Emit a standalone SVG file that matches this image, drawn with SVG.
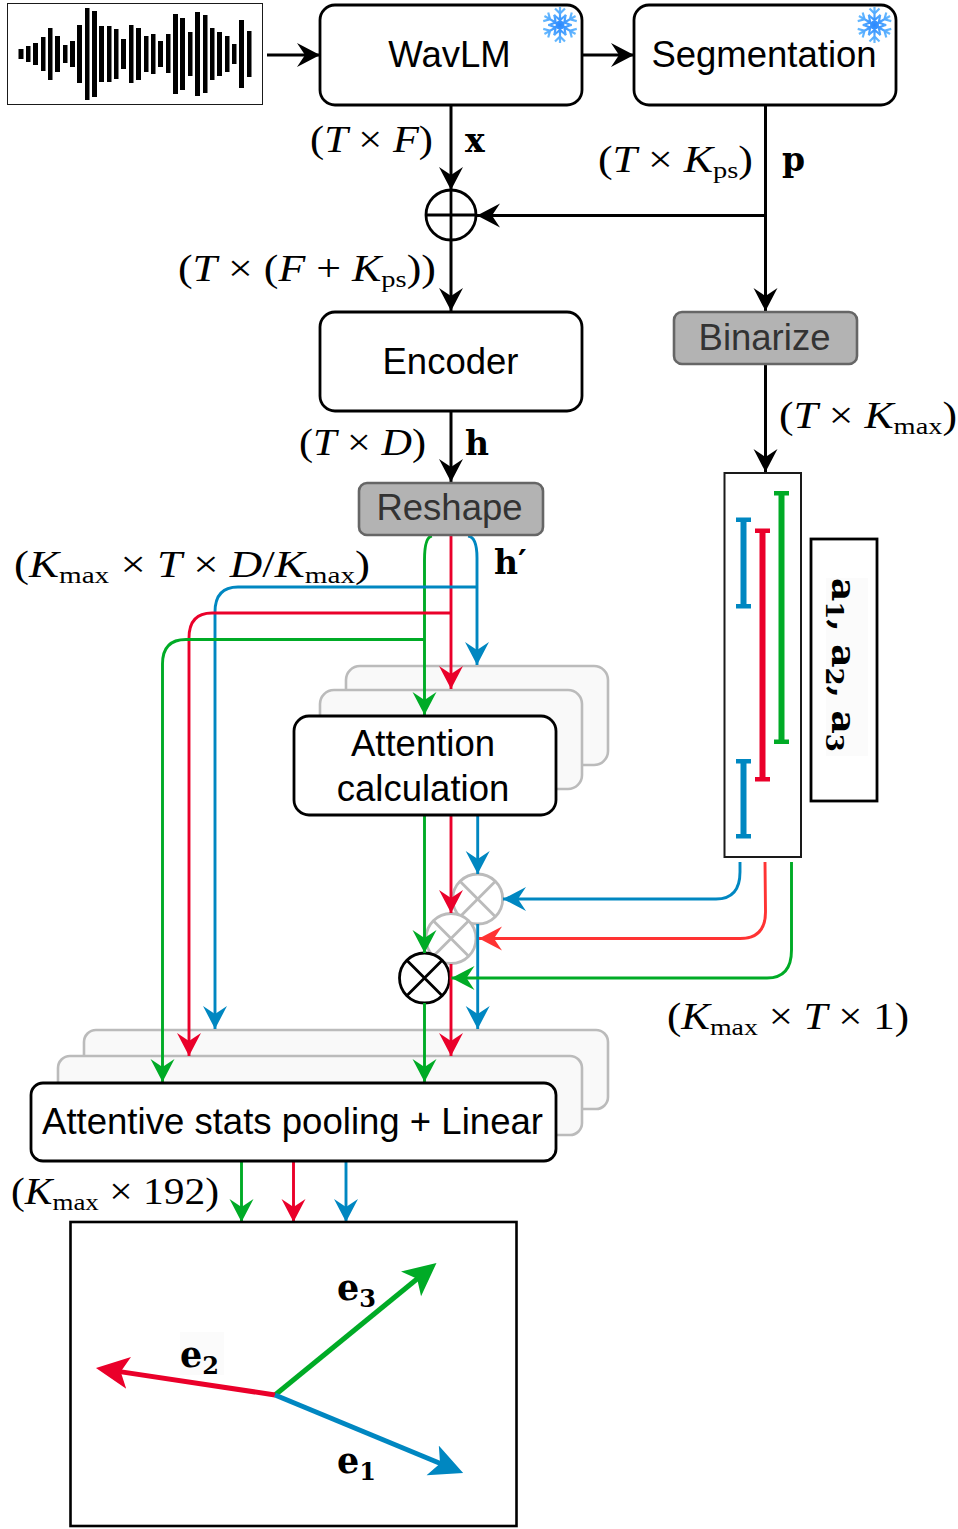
<svg xmlns="http://www.w3.org/2000/svg" xmlns:xlink="http://www.w3.org/1999/xlink" width="958" height="1529" viewBox="0 0 958 1529">
<style>
.box{fill:#fff;stroke:#000;stroke-width:2.8}
.ghost{fill:#f9f9f9;stroke:#bbb;stroke-width:2.6}
.gray{fill:#b3b3b3;stroke:#666;stroke-width:2.6}
.plain{fill:#fff;stroke:#1a1a1a}
.lbl{font-family:"Liberation Sans",Arial,sans-serif;font-size:36.500px;text-anchor:middle;fill:#000}
.math{font-family:"Liberation Serif","Times New Roman",serif;font-size:37px;fill:#000}
.i{font-style:italic}
.sub{font-size:24px}
.bold{font-family:"DejaVu Serif",serif;font-weight:bold;font-size:33px;fill:#000}
.bsub{font-size:24px}
.k,.g,.r,.b,.r2{fill:none;stroke-width:2.900}
.k{stroke:#000;stroke-width:3}.g{stroke:#00ab26}.r{stroke:#ea002a}.b{stroke:#0087c1}.r2{stroke:#f33}
.cross{fill:#fff;stroke:#000;stroke-width:2.8}
.cg{fill:#fff;stroke:#bbb;stroke-width:2.8}
.bar{fill:#000}
</style>
<defs>
<marker id="mk" markerUnits="userSpaceOnUse" markerWidth="26" markerHeight="26" refX="23" refY="12" orient="auto"><path d="M23 12L0 0L8 12L0 24Z" fill="#000"/></marker>
<marker id="mg" markerUnits="userSpaceOnUse" markerWidth="26" markerHeight="26" refX="23" refY="12" orient="auto"><path d="M23 12L0 0L8 12L0 24Z" fill="#00ab26"/></marker>
<marker id="mr" markerUnits="userSpaceOnUse" markerWidth="26" markerHeight="26" refX="23" refY="12" orient="auto"><path d="M23 12L0 0L8 12L0 24Z" fill="#ea002a"/></marker>
<marker id="mb" markerUnits="userSpaceOnUse" markerWidth="26" markerHeight="26" refX="23" refY="12" orient="auto"><path d="M23 12L0 0L8 12L0 24Z" fill="#0087c1"/></marker>
<marker id="mr2" markerUnits="userSpaceOnUse" markerWidth="26" markerHeight="26" refX="23" refY="12" orient="auto"><path d="M23 12L0 0L8 12L0 24Z" fill="#f33"/></marker>
<marker id="vg" markerUnits="userSpaceOnUse" markerWidth="36" markerHeight="34" refX="9" refY="16" orient="auto"><path d="M33 16L0 0L8 16L0 32Z" fill="#00ab26"/></marker>
<marker id="vr" markerUnits="userSpaceOnUse" markerWidth="36" markerHeight="34" refX="9" refY="16" orient="auto"><path d="M33 16L0 0L8 16L0 32Z" fill="#ea002a"/></marker>
<marker id="vb" markerUnits="userSpaceOnUse" markerWidth="36" markerHeight="34" refX="9" refY="16" orient="auto"><path d="M33 16L0 0L8 16L0 32Z" fill="#0087c1"/></marker>
<radialGradient id="snowfill" gradientUnits="userSpaceOnUse" cx="0" cy="0" r="18"><stop offset="0" stop-color="#2a88ff"/><stop offset="1" stop-color="#6abcff"/></radialGradient>
<g id="arm"><path d="M0 0V-18M-5 -16.500L0 -11.500L5 -16.500M-6 -10L0 -5L6 -10" fill="none" stroke="url(#snowfill)" stroke-width="2.200"/></g>
<g id="snow"><circle r="4.500" fill="url(#snowfill)"/><use xlink:href="#arm"/><use xlink:href="#arm" transform="rotate(60)"/><use xlink:href="#arm" transform="rotate(120)"/><use xlink:href="#arm" transform="rotate(180)"/><use xlink:href="#arm" transform="rotate(240)"/><use xlink:href="#arm" transform="rotate(300)"/></g>
</defs>
<rect width="958" height="1529" fill="#fff"/>

<g id="waveform">
<rect class="plain" x="7.500" y="3.500" width="255" height="101"/>
<g class="bar">
<rect x="18.500" y="49" width="5" height="10"/><rect x="26" y="46" width="4.500" height="16"/><rect x="33" y="43" width="5" height="22"/><rect x="41" y="37" width="4.500" height="34"/><rect x="48" y="28" width="4.500" height="52"/><rect x="55" y="36" width="5" height="36"/><rect x="63" y="45" width="4.500" height="18"/><rect x="70" y="41" width="5" height="26"/><rect x="77" y="25" width="5" height="58"/><rect x="85" y="8" width="4.500" height="92"/><rect x="92" y="11" width="5" height="86"/><rect x="99" y="26" width="5" height="56"/><rect x="107" y="26" width="4.500" height="56"/><rect x="114" y="29" width="4.500" height="50"/><rect x="121" y="39" width="5" height="30"/><rect x="129" y="25" width="4.500" height="58"/><rect x="136" y="28" width="5" height="52"/><rect x="144" y="36" width="4.500" height="36"/><rect x="151" y="34" width="4.500" height="40"/><rect x="158" y="41" width="5" height="26"/><rect x="166" y="34" width="4.500" height="39"/><rect x="173" y="14" width="5" height="80"/><rect x="180" y="18" width="5" height="72"/><rect x="188" y="32" width="4.500" height="44"/><rect x="195" y="12" width="5" height="84"/><rect x="203" y="15" width="4.500" height="78"/><rect x="210" y="28" width="4.500" height="52"/><rect x="217" y="32" width="5" height="44"/><rect x="225" y="36" width="4.500" height="36"/><rect x="232" y="44" width="4.500" height="20"/><rect x="239" y="20" width="5" height="68"/><rect x="247" y="31" width="4.500" height="46"/>
</g>
</g>

<g id="attention-back"><rect class="ghost" x="346" y="666" width="262" height="99" rx="14"/></g>
<g id="attention-mid"><rect class="ghost" x="320" y="690" width="262" height="99" rx="14"/></g>
<g id="pool-back"><rect class="ghost" x="84" y="1030" width="524" height="79" rx="12"/></g>
<g id="pool-mid"><rect class="ghost" x="58" y="1056" width="524" height="79" rx="12"/></g>

<g id="mul-blue"><circle class="cg" cx="477.700" cy="899" r="25"/><path class="cg" d="M460 881.300L495.400 916.700M495.400 881.300L460 916.700"/></g>
<g id="mul-red"><circle class="cg" cx="451" cy="938.500" r="25"/><path class="cg" d="M433.300 920.800L468.700 956.200M468.700 920.800L433.300 956.200"/></g>
<g id="mul-green"><circle class="cross" cx="424.500" cy="978" r="25"/><path class="cross" d="M406.800 960.300L442.200 995.700M442.200 960.300L406.800 995.700"/></g>
<g id="add"><circle class="cross" cx="451" cy="215" r="25"/><path class="cross" d="M426 215H476M451 190V240"/></g>

<g id="connectors">
<path class="k" marker-end="url(#mk)" d="M267 55H320"/>
<path class="k" marker-end="url(#mk)" d="M582 55H634"/>
<path class="k" marker-end="url(#mk)" d="M451 105V190"/>
<path class="k" marker-end="url(#mk)" d="M765.500 105V311"/>
<path class="k" marker-end="url(#mk)" d="M765.500 215.500H477"/>
<path class="k" marker-end="url(#mk)" d="M451 240V311"/>
<path class="k" marker-end="url(#mk)" d="M451 411V482"/>
<path class="k" marker-end="url(#mk)" d="M765.500 364V472"/>

<path class="g" marker-end="url(#mg)" d="M432 536Q424.500 537 424.500 560V715"/>
<path class="r" marker-end="url(#mr)" d="M451 535V689"/>
<path class="b" marker-end="url(#mb)" d="M468 536Q477 537 477 558V665"/>
<path class="b" marker-end="url(#mb)" d="M477 587H238Q215 587 215 612V1029"/>
<path class="r" marker-end="url(#mr)" d="M451 613H212Q189 613 189 638V1056"/>
<path class="g" marker-end="url(#mg)" d="M424.500 639.500H186Q162.500 639.500 162.500 664V1082"/>

<path class="g" marker-end="url(#mg)" d="M424.500 816V953"/>
<path class="r" marker-end="url(#mr)" d="M451 816V913"/>
<path class="b" marker-end="url(#mb)" d="M477.700 816V874"/>
<path class="g" marker-end="url(#mg)" d="M424.500 1003V1082"/>
<path class="r" marker-end="url(#mr)" d="M451 964V1056"/>
<path class="b" marker-end="url(#mb)" d="M477.700 924V1029"/>

<path class="b" marker-end="url(#mb)" d="M740 862V872Q740 899 716 899H503"/>
<path class="r2" marker-end="url(#mr2)" d="M765 862L765.500 912Q765.500 938.500 740 938.500H479"/>
<path class="g" marker-end="url(#mg)" d="M791.500 862V950Q791.500 978 767 978H451.500"/>

<path class="g" marker-end="url(#mg)" d="M241.500 1161V1222"/>
<path class="r" marker-end="url(#mr)" d="M293.500 1161V1222"/>
<path class="b" marker-end="url(#mb)" d="M346 1161V1222"/>
</g>

<g id="wavlm"><rect class="box" x="320" y="5" width="262" height="100" rx="15"/><text class="lbl" x="449.500" y="67">WavLM</text><use xlink:href="#snow" x="560" y="25"/></g>
<g id="segmentation"><rect class="box" x="634" y="5" width="262" height="100" rx="15"/><text class="lbl" x="764" y="67">Segmentation</text><use xlink:href="#snow" x="874.500" y="25"/></g>
<g id="encoder"><rect class="box" x="320" y="312" width="262" height="99" rx="15"/><text class="lbl" x="450.500" y="374">Encoder</text></g>
<g id="binarize"><rect class="gray" x="674" y="312" width="183" height="52" rx="8"/><text class="lbl" x="764.500" y="350" style="fill:#333">Binarize</text></g>
<g id="reshape"><rect class="gray" x="359" y="483" width="184" height="52" rx="8"/><text class="lbl" x="449.500" y="520" style="fill:#333">Reshape</text></g>
<g id="attention"><rect class="box" x="294" y="716" width="262" height="99" rx="15"/><text class="lbl" x="423" y="756">Attention</text><text class="lbl" x="423" y="801">calculation</text></g>
<g id="pooling"><rect class="box" x="31" y="1083" width="525" height="78" rx="12"/><text class="lbl" x="292.500" y="1134" textLength="501" lengthAdjust="spacingAndGlyphs">Attentive stats pooling + Linear</text></g>

<g id="activity">
<rect class="plain" x="724.500" y="473" width="76.500" height="384" stroke-width="2"/>
<path fill="#0087c1" d="M736 517.500h15v4.500h-4.500v82h4.500v4.500h-15v-4.500h4.500v-82h-4.500zM736 759h15v4.500h-4.500v70.500h4.500v4.500h-15v-4.500h4.500v-70.500h-4.500z"/>
<path fill="#ea002a" d="M755 528.500h15v4.500h-4.500v244h4.500v4.500h-15v-4.500h4.500v-244h-4.500z"/>
<path fill="#00ab26" d="M774 491h15v4.500h-4.500v244h4.500v4.500h-15v-4.500h4.500v-244h-4.500z"/>
</g>
<g id="activity-label">
<rect x="811" y="539" width="66" height="262" fill="#fff" stroke="#000" stroke-width="2.800"/>
<rect x="826" y="578" width="42" height="178" fill="#fbfbfb"/>
<text class="bold" transform="translate(832 578) rotate(90)" textLength="174" lengthAdjust="spacingAndGlyphs">a<tspan class="bsub" dy="6">1</tspan><tspan dy="-6">, a</tspan><tspan class="bsub" dy="6">2</tspan><tspan dy="-6">, a</tspan><tspan class="bsub" dy="6">3</tspan></text>
</g>

<g id="embeddings">
<rect x="70.500" y="1222" width="446" height="304" fill="#fff" stroke="#000" stroke-width="2.600"/>
<path fill="none" stroke="#00ab26" stroke-width="5" marker-end="url(#vg)" d="M275 1395L417.900 1278.200"/>
<path fill="none" stroke="#ea002a" stroke-width="5" marker-end="url(#vr)" d="M275 1395L119.700 1371.600"/>
<path fill="none" stroke="#0087c1" stroke-width="5" marker-end="url(#vb)" d="M275 1395L441 1463.800"/>
<rect x="180" y="1332" width="44" height="43" fill="#fbfbfb"/>
<text class="bold" x="337" y="1300" style="font-size:35px">e<tspan class="bsub" dy="7">3</tspan></text>
<text class="bold" x="180" y="1367" style="font-size:35px">e<tspan class="bsub" dy="7">2</tspan></text>
<text class="bold" x="337" y="1473" style="font-size:35px">e<tspan class="bsub" dy="7">1</tspan></text>
</g>

<g id="labels">
<text class="math" x="310" y="152" textLength="123" lengthAdjust="spacingAndGlyphs">(<tspan class="i">T</tspan> × <tspan class="i">F</tspan>)</text>
<text class="bold" x="465" y="152">x</text>
<text class="math" x="598" y="172" textLength="155" lengthAdjust="spacingAndGlyphs">(<tspan class="i">T</tspan> × <tspan class="i">K</tspan><tspan class="sub" dy="6">ps</tspan><tspan dy="-6">)</tspan></text>
<text class="bold" x="782" y="171">p</text>
<text class="math" x="178" y="281" textLength="258" lengthAdjust="spacingAndGlyphs">(<tspan class="i">T</tspan> × (<tspan class="i">F</tspan> + <tspan class="i">K</tspan><tspan class="sub" dy="6">ps</tspan><tspan dy="-6">))</tspan></text>
<text class="math" x="299" y="455" textLength="127" lengthAdjust="spacingAndGlyphs">(<tspan class="i">T</tspan> × <tspan class="i">D</tspan>)</text>
<text class="bold" x="465" y="455">h</text>
<text class="math" x="779" y="428" textLength="178" lengthAdjust="spacingAndGlyphs">(<tspan class="i">T</tspan> × <tspan class="i">K</tspan><tspan class="sub" dy="6">max</tspan><tspan dy="-6">)</tspan></text>
<text class="bold" x="494" y="574">h′</text>
<text class="math" x="14" y="577" textLength="356" lengthAdjust="spacingAndGlyphs">(<tspan class="i">K</tspan><tspan class="sub" dy="6">max</tspan><tspan dy="-6"> × </tspan><tspan class="i">T</tspan> × <tspan class="i">D</tspan>/<tspan class="i">K</tspan><tspan class="sub" dy="6">max</tspan><tspan dy="-6">)</tspan></text>
<text class="math" x="667" y="1029" textLength="242" lengthAdjust="spacingAndGlyphs">(<tspan class="i">K</tspan><tspan class="sub" dy="6">max</tspan><tspan dy="-6"> × </tspan><tspan class="i">T</tspan> × 1)</text>
<text class="math" x="11" y="1204" textLength="208" lengthAdjust="spacingAndGlyphs">(<tspan class="i">K</tspan><tspan class="sub" dy="6">max</tspan><tspan dy="-6"> × 192)</tspan></text>
</g>
</svg>
